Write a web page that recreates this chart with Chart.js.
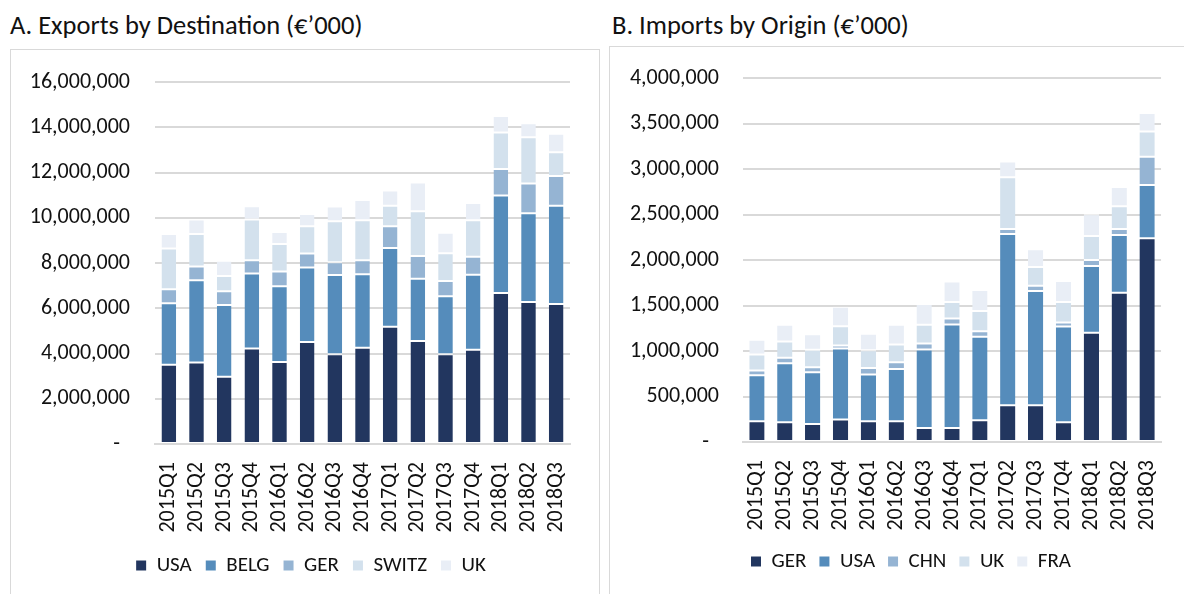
<!DOCTYPE html>
<html>
<head>
<meta charset="utf-8">
<script src="https://cdn.jsdelivr.net/npm/chart.js@4.4.1/dist/chart.umd.min.js"></script>
<style>
  body { margin: 0; width: 1184px; height: 594px; background: #fff; overflow: hidden; position: relative; font-family: Carlito, Lato, sans-serif; }
  .title { position: absolute; top: 9px; font-size: 26.5px; color: #111; white-space: nowrap; }
  .panel { position: absolute; border: 1.5px solid #d9d9d9; }
  canvas { position: absolute; }
</style>
</head>
<body>
<div class="title" style="left:10px">A. Exports by Destination (€’000)</div>
<div class="title" style="left:612px">B. Imports by Origin (€’000)</div>
<div class="panel" style="left:10px;top:49px;width:588px;height:600px"></div>
<div class="panel" style="left:609px;top:46px;width:620px;height:600px"></div>
<canvas id="exports" width="586" height="550" style="left:12px;top:44px"></canvas>
<canvas id="imports" width="573" height="553" style="left:611px;top:41px"></canvas>
<script>
// quarters shared by both charts
const quarters = ["2015Q1","2015Q2","2015Q3","2015Q4","2016Q1","2016Q2","2016Q3","2016Q4",
  "2017Q1","2017Q2","2017Q3","2017Q4","2018Q1","2018Q2","2018Q3"];

// A. exports by destination (stacked)
const expUSA   = [3500000,3600000,2970000,4220000,3630000,4510000,3970000,4260000,5190000,4560000,3970000,4170000,6680000,6280000,6190000];
const expBELG  = [2720000,3640000,3180000,3320000,3350000,3300000,3500000,3250000,3480000,2750000,2560000,3310000,4310000,3930000,4350000];
const expGER   = [620000,610000,600000,590000,650000,620000,570000,620000,960000,1000000,680000,800000,1170000,1310000,1310000];
const expSWITZ = [1810000,1440000,680000,1800000,1210000,1200000,1810000,1770000,910000,1980000,1230000,1620000,1620000,2040000,1050000];
const expUK    = [640000,640000,670000,580000,540000,540000,650000,890000,670000,1270000,900000,760000,720000,630000,820000];

// B. imports by origin
const impGER = [228000,217000,198000,247000,228000,228000,154000,154000,239000,404000,404000,217000,1200000,1641000,2240000];
const impUSA = [506000,650000,570000,782000,514000,576000,864000,1139000,917000,1883000,1256000,1054000,735000,635000,587000];
const impCHN = [52000,58000,55000,33000,73000,74000,66000,66000,63000,55000,58000,44000,66000,66000,308000];
const impUK  = [176000,181000,190000,212000,195000,195000,205000,180000,220000,570000,206000,224000,264000,250000,279000];
const impFRA = [161000,183000,173000,213000,179000,216000,228000,227000,232000,172000,195000,231000,239000,213000,203000];

const expMax = 16000000, expStep = 2000000;
const impMax = 4000000, impStep = 500000;

const colors = ["#22365f", "#558cbb", "#95b4d3", "#d3e1ed", "#e9eef6"];
const fontFam = "Carlito, Lato, sans-serif";

function ds(label, data, i) {
  return {
    label: label,
    data: data,
    backgroundColor: colors[i],
    borderColor: "#ffffff",
    borderWidth: { top: 1, bottom: 1, left: 0, right: 0 },
    borderSkipped: false
  };
}

function fmt(v) {
  if (v === 0) return "-  ";
  return v.toLocaleString("en-US");
}

function makeChart(id, series, max, step, opt) {
  new Chart(document.getElementById(id), {
    type: "bar",
    data: { labels: quarters, datasets: series },
    plugins: [{
      // nudge the legend sideways, as in the original
      id: "legendShift",
      afterLayout: function (c) { c.legend.left += opt.legDx; c.legend.right += opt.legDx; }
    }],
    options: {
      responsive: false,
      animation: false,
      layout: { padding: { top: opt.top, right: opt.right, bottom: opt.bottom, left: 0 } },
      datasets: { bar: { categoryPercentage: 1, barPercentage: opt.bar } },
      plugins: {
        tooltip: { enabled: false },
        legend: {
          position: "bottom",
          labels: {
            color: "#111",
            font: { family: fontFam, size: 21 },
            boxWidth: 10, boxHeight: 10, padding: opt.legPad,
            generateLabels: function (chart) {
              return chart.data.datasets.map(function (d, i) {
                return { text: d.label, fillStyle: d.backgroundColor, strokeStyle: d.backgroundColor, lineWidth: 0, datasetIndex: i, fontColor: "#111" };
              });
            }
          }
        }
      },
      scales: {
        x: {
          stacked: true,
          grid: { display: false },
          border: { color: "#d9d9d9", width: 2 },
          ticks: { color: "#111", font: { family: fontFam, size: 22 }, maxRotation: 90, minRotation: 90, padding: 10, autoSkip: false },
          afterFit: function (s) { s.height = opt.xh; }
        },
        y: {
          stacked: true,
          min: 0, max: max,
          border: { display: false },
          grid: { color: "#d9d9d9", lineWidth: 2, drawTicks: false },
          ticks: { stepSize: step, color: "#111", font: { family: fontFam, size: 22 }, padding: opt.yPad, callback: fmt },
          afterFit: function (s) { s.width = opt.yw; }
        }
      }
    }
  });
}

makeChart("exports", [
  ds("USA", expUSA, 0), ds("BELG", expBELG, 1), ds("GER", expGER, 2), ds("SWITZ", expSWITZ, 3), ds("UK", expUK, 4)
], expMax, expStep, { top: 17, right: 28, bottom: 8, xh: 97, yw: 143, yPad: 25, bar: 0.53, legPad: 14, legDx: 20 });

makeChart("imports", [
  ds("GER", impGER, 0), ds("USA", impUSA, 1), ds("CHN", impCHN, 2), ds("UK", impUK, 3), ds("FRA", impFRA, 4)
], impMax, impStep, { top: 17, right: 15, bottom: 12, xh: 96, yw: 132, yPad: 24, bar: 0.55, legPad: 13, legDx: 21 });
</script>
</body>
</html>
